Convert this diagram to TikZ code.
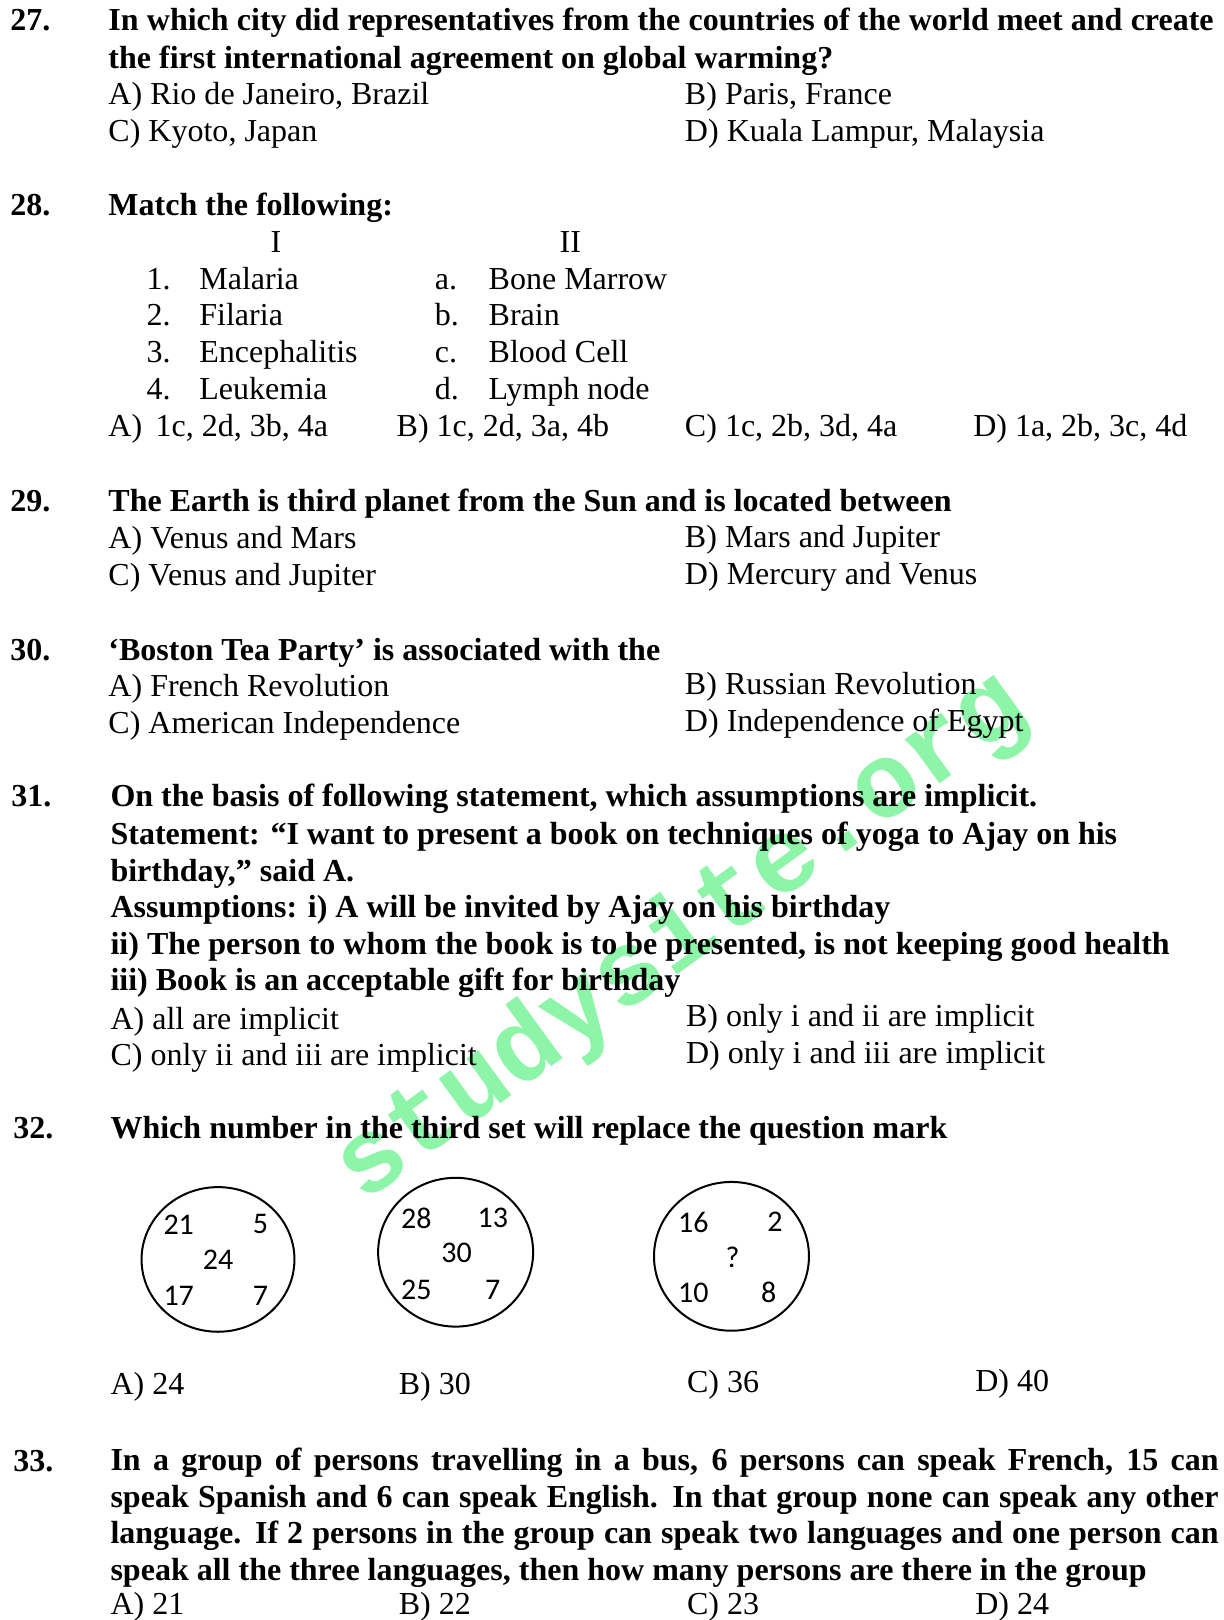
\documentclass[tikz,border=0pt]{standalone}
\usepackage{fontspec}
\setmainfont{Liberation Serif}
\newfontfamily\calibrifont{Carlito}
\newfontfamily\wmfont{Liberation Mono}
\definecolor{wmgreen}{RGB}{140,245,168}
\begin{document}
\begin{tikzpicture}[x=1.033pt,y=-1.033pt,
  every node/.style={inner sep=0pt,outer sep=0pt},
  qt/.style={anchor=base west,font=\fontsize{32}{38}\selectfont\bfseries},
  op/.style={anchor=base west,font=\fontsize{32}{38}\selectfont},
  mid/.style={anchor=base,font=\fontsize{32}{38}\selectfont},
  ring/.style={draw,line width=2pt},
  num/.style={font=\fontsize{30}{34}\calibrifont}]
\useasboundingbox[fill=white] (0,0) rectangle (1184,1568);
% watermark
\node[rotate=36,text=wmgreen,font=\fontsize{106}{112}\wmfont\bfseries] (wm) at (660,908) {studysite.org};
% Q27
\node[qt] (n27) at (10,30) {27.};
\node[qt] (q27a) at (105,30) {\makebox[1105pt][s]{In which city did representatives from the countries of the world meet and create}};
\node[qt] (q27b) at (105,66) {the first international agreement on global warming?};
\node[op] (o27a) at (105,101) {A) Rio de Janeiro, Brazil};
\node[op] (o27b) at (663,101) {B) Paris, France};
\node[op] (o27c) at (105,137) {C) Kyoto, Japan};
\node[op] (o27d) at (663,137) {D) Kuala Lampur, Malaysia};
% Q28
\node[qt] (n28) at (10,209) {28.};
\node[qt] (q28) at (105,209) {Match the following:};
\node[mid] (h1) at (267,244) {I};
\node[mid] (h2) at (552,244) {II};
\node[op] (i1) at (142,280) {1.};
\node[op] (t1) at (193,280) {Malaria};
\node[op] (i2) at (142,315) {2.};
\node[op] (t2) at (193,315) {Filaria};
\node[op] (i3) at (142,351) {3.};
\node[op] (t3) at (193,351) {Encephalitis};
\node[op] (i4) at (142,387) {4.};
\node[op] (t4) at (193,387) {Leukemia};
\node[op] (j1) at (421,280) {a.};
\node[op] (u1) at (473,280) {Bone Marrow};
\node[op] (j2) at (421,315) {b.};
\node[op] (u2) at (473,315) {Brain};
\node[op] (j3) at (421,351) {c.};
\node[op] (u3) at (473,351) {Blood Cell};
\node[op] (j4) at (421,387) {d.};
\node[op] (u4) at (473,387) {Lymph node};
\node[op] (o28a) at (105,422) {A)\, 1c, 2d, 3b, 4a};
\node[op] (o28b) at (384,422) {B) 1c, 2d, 3a, 4b};
\node[op] (o28c) at (663,422) {C) 1c, 2b, 3d, 4a};
\node[op] (o28d) at (942,422) {D) 1a, 2b, 3c, 4d};
% Q29
\node[qt] (n29) at (10,495) {29.};
\node[qt] (q29) at (105,495) {The Earth is third planet from the Sun and is located between};
\node[op] (o29a) at (105,531) {A) Venus and Mars};
\node[op] (o29b) at (663,530) {B) Mars and Jupiter};
\node[op] (o29c) at (105,567) {C) Venus and Jupiter};
\node[op] (o29d) at (663,566) {D) Mercury and Venus};
% Q30
\node[qt] (n30) at (10,639) {30.};
\node[qt] (q30) at (105,639) {‘Boston Tea Party’ is associated with the};
\node[op] (o30a) at (105,674) {A) French Revolution};
\node[op] (o30b) at (663,672) {B) Russian Revolution};
\node[op] (o30c) at (105,710) {C) American Independence};
\node[op] (o30d) at (663,708) {D) Independence of Egypt};
% Q31
\node[qt] (n31) at (11,781) {31.};
\node[qt] (q31a) at (107,781) {On the basis of following statement, which assumptions are implicit.};
\node[qt] (q31b) at (107,817) {Statement: “I want to present a book on techniques of yoga to Ajay on his};
\node[qt] (q31c) at (107,853) {birthday,” said A.};
\node[qt] (q31d) at (107,888) {Assumptions: i) A will be invited by Ajay on his birthday};
\node[qt] (q31e) at (107,924) {ii) The person to whom the book is to be presented, is not keeping good health};
\node[qt] (q31f) at (107,959) {iii) Book is an acceptable gift for birthday};
\node[op] (o31a) at (107,996) {A) all are implicit};
\node[op] (o31b) at (664,994) {B) only i and ii are implicit};
\node[op] (o31c) at (107,1031) {C) only ii and iii are implicit};
\node[op] (o31d) at (664,1029) {D) only i and iii are implicit};
% Q32
\node[qt] (n32) at (13,1102) {32.};
\node[qt] (q32) at (107,1102) {Which number in the third set will replace the question mark};
\draw[ring] (211,1219) ellipse [x radius=74,y radius=70];
\draw[ring] (441,1212) ellipse [x radius=75,y radius=72];
\draw[ring] (708,1216) ellipse [x radius=75,y radius=72];
\node[num] (c1a) at (173,1185) {21};
\node[num] (c1b) at (252,1185) {5};
\node[num] (c1c) at (211,1219) {24};
\node[num] (c1d) at (173,1254) {17};
\node[num] (c1e) at (252,1254) {7};
\node[num] (c2a) at (403,1179) {28};
\node[num] (c2b) at (477,1179) {13};
\node[num] (c2c) at (442,1213) {30};
\node[num] (c2d) at (403,1248) {25};
\node[num] (c2e) at (477,1248) {7};
\node[num] (c3a) at (671,1183) {16};
\node[num] (c3b) at (750,1183) {2};
\node[num] (c3c) at (709,1217) {?};
\node[num] (c3d) at (671,1251) {10};
\node[num] (c3e) at (744,1251) {8};
\node[op] (o32a) at (107,1350) {A) 24};
\node[op] (o32b) at (386,1350) {B) 30};
\node[op] (o32c) at (665,1348) {C) 36};
\node[op] (o32d) at (944,1347) {D) 40};
% Q33
\node[qt] (n33) at (13,1424) {33.};
\node[qt] (q33a) at (107,1423) {\makebox[1108pt][s]{In a group of persons travelling in a bus, 6 persons can speak French, 15 can}};
\node[qt] (q33b) at (107,1459) {\makebox[1108pt][s]{speak Spanish and 6 can speak English. In that group none can speak any other}};
\node[qt] (q33c) at (107,1494) {\makebox[1108pt][s]{language. If 2 persons in the group can speak two languages and one person can}};
\node[qt] (q33d) at (107,1530) {speak all the three languages, then how many persons are there in the group};
\node[op] (o33a) at (107,1563) {A) 21};
\node[op] (o33b) at (386,1563) {B) 22};
\node[op] (o33c) at (665,1563) {C) 23};
\node[op] (o33d) at (944,1563) {D) 24};
\end{tikzpicture}
\end{document}
